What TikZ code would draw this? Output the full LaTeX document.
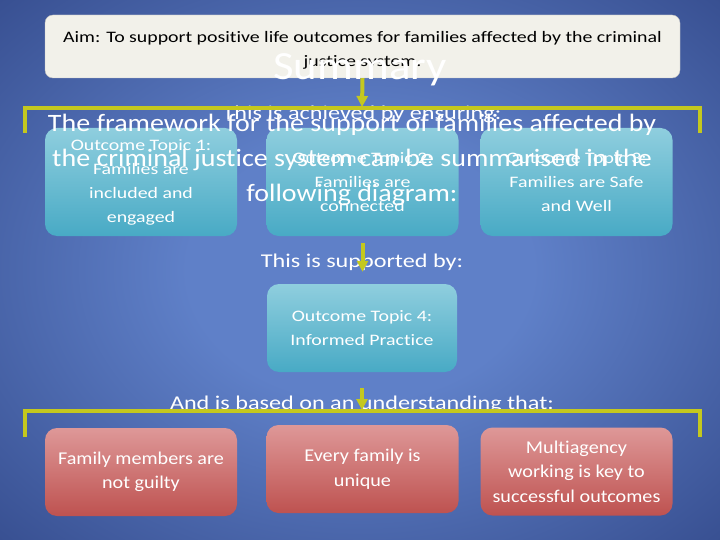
\documentclass[tikz,border=0pt]{standalone}
\usepackage{fontspec}
\setmainfont{Carlito}[Ligatures=CommonOff]
\newfontfamily\wideA{Carlito}[Ligatures=CommonOff,FakeStretch=1.24]
\newfontfamily\wideB{Carlito}[Ligatures=CommonOff,FakeStretch=1.12]
\usetikzlibrary{arrows.meta}
\definecolor{bgin}{RGB}{95,128,200}
\definecolor{bgout}{RGB}{32,50,112}
\definecolor{bgedge}{RGB}{22,36,92}
\definecolor{olive}{RGB}{196,200,30}
\definecolor{tealtop}{RGB}{143,206,222}
\definecolor{tealbot}{RGB}{72,170,197}
\definecolor{redtop}{RGB}{222,152,152}
\definecolor{redbot}{RGB}{190,82,80}
\definecolor{aimfill}{RGB}{242,241,234}
\pgfdeclareradialshading{slidebg}{\pgfpoint{0bp}{0bp}}{color(0bp)=(bgin); color(12bp)=(bgin); color(50bp)=(bgout); color(72bp)=(bgedge)}
\tikzset{
  aimbox/.style={rounded corners=8pt,fill=aimfill,draw=black!25,text=black,align=center,
    font=\wideA\fontsize{16}{24}\selectfont,inner sep=0pt},
  topicbox/.style={rounded corners=12pt,top color=tealtop,bottom color=tealbot,text=white,
    align=center,font=\wideA\fontsize{16}{24}\selectfont,inner sep=0pt},
  beliefbox/.style={rounded corners=12pt,top color=redtop,bottom color=redbot,text=white,
    align=center,font=\wideB\fontsize{18}{24.5}\selectfont,inner sep=0pt},
  linktext/.style={text=white,font=\wideA\fontsize{19.5}{24}\selectfont,inner sep=0pt},
  link/.style={draw=olive,line width=4pt},
  linkarrow/.style={link,-{Triangle[width=11pt,length=11pt]}}
}
\begin{document}
\begin{tikzpicture}[x=1pt,y=-1pt]
  \useasboundingbox (0,0) rectangle (720,540);
  \shade[shading=slidebg] (0,0) rectangle (720,540);
  \node[aimbox,minimum width=635pt,minimum height=63pt] (aim) at (362.5,46.5)
    {\rule{0pt}{19pt}Aim: To support positive life outcomes for families affected by the criminal\\justice system.};
  \foreach \x/\n/\t in {141/1/{Outcome Topic 1:\\Families are\\included and\\engaged},
                        362.5/2/{Outcome Topic 2:\\Families are\\connected},
                        576.5/3/{Outcome Topic 3:\\Families are Safe\\and Well}}{
    \node[topicbox,minimum width=192pt,minimum height=108pt] (topic\n) at (\x,182) {\t};
  }
  \node[topicbox,minimum width=190pt,minimum height=88pt] (topic4) at (362,328)
    {Outcome Topic 4:\\Informed Practice};
  \foreach \x/\y/\n/\t in {141/472/1/{Family members are\\not guilty},
                           362.5/469/2/{Every family is\\unique},
                           576.5/471.5/3/{Multiagency\\working is key to\\successful outcomes}}{
    \node[beliefbox,minimum width=192pt,minimum height=88pt] (belief\n) at (\x,\y) {\t};
  }
  \node[linktext] (ensuring) at (362,114) {This is achieved by ensuring:};
  \node[linktext] (supported) at (362,262.5) {This is supported by:};
  \node[linktext] (based) at (362,404) {And is based on an understanding that:};
  \coordinate (brA) at (362,108);
  \coordinate (brAl) at (25,133);
  \coordinate (brAr) at (700,133);
  \coordinate (brB) at (362,411);
  \coordinate (brBl) at (25,437);
  \coordinate (brBr) at (700,437);
  \draw[link] (brAl) |- (brA) -| (brAr);
  \draw[link] (brBl) |- (brB) -| (brBr);
  \draw[linkarrow,shorten >=1pt] (aim.south) -- (brA);
  \draw[linkarrow,shorten <=7pt,shorten >=12pt] (topic2.south) -- (topic2.south |- topic4.north);
  \draw[linkarrow,shorten <=16pt,shorten >=1pt] (topic4.south) -- (brB);
  \node[text=white,font=\wideB\fontsize{40}{40}\selectfont,inner sep=0pt] (summary) at (360,70) {Summary};
  \node[text=white,align=center,font=\wideB\fontsize{25}{35}\selectfont,inner sep=0pt] (title) at (352,160)
    {The framework for the support of families affected by\\the criminal justice system can be summarised in the\\following diagram:};
\end{tikzpicture}
\end{document}
